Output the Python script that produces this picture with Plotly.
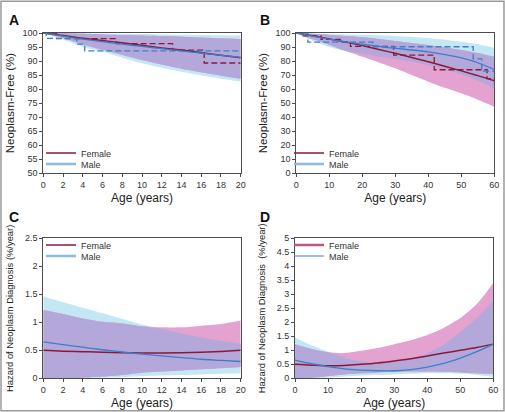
import plotly.graph_objects as go
import numpy as np

# ---------------- DATA ----------------
# Panel A: Neoplasm-free (%) by age 0-20
age_a = [0, 2, 4, 6, 8, 10, 12, 14, 16, 18, 20]
female_fit_a = [100, 99.1, 98.1, 97.3, 96.5, 95.6, 94.7, 93.9, 93.0, 92.1, 91.2]
male_fit_a = [100, 98.9, 97.8, 96.9, 96.0, 95.2, 94.4, 93.6, 92.8, 92.0, 91.3]
female_up_a = [100, 99.9, 99.7, 99.5, 99.3, 99.1, 98.9, 98.7, 98.4, 98.1, 97.8]
female_lo_a = [100, 98.2, 95.9, 94.0, 92.2, 90.4, 88.8, 87.3, 86.0, 84.8, 83.7]
male_up_a = [100, 100, 99.9, 99.8, 99.7, 99.6, 99.5, 99.4, 99.3, 99.2, 99.1]
male_lo_a = [100, 97.7, 95.1, 93.3, 91.2, 89.2, 87.6, 86.2, 84.9, 83.7, 82.7]
km_female_age_a = [0, 1.35, 7.4, 13.1, 16.3, 20]
km_female_a = [100, 98.0, 96.2, 93.9, 89.3, 89.3]
km_male_age_a = [0, 0.3, 3.4, 4.2, 20]
km_male_a = [100, 98.1, 96.0, 93.6, 93.6]

# Panel B: Neoplasm-free (%) by age 0-60
age_b = [0, 5, 10, 15, 20, 25, 30, 35, 40, 45, 50, 55, 60]
female_fit_b = [100, 98.0, 95.8, 93.5, 91.0, 88.3, 85.5, 82.5, 79.5, 76.3, 73.0, 69.6, 66.0]
male_fit_b = [100, 97.8, 95.6, 93.7, 92.0, 90.5, 89.0, 87.9, 86.5, 84.6, 82.2, 78.8, 74.0]
female_up_b = [100, 99.4, 98.6, 97.8, 96.9, 95.7, 94.3, 92.9, 91.4, 89.7, 87.9, 85.7, 83.0]
female_lo_b = [100, 95.5, 91.5, 87.3, 83.0, 79.0, 74.8, 70.0, 65.3, 61.0, 57.0, 52.5, 47.5]
male_up_b = [100, 99.6, 99.3, 99.0, 98.8, 98.4, 97.9, 97.1, 96.2, 95.2, 93.8, 92.0, 89.5]
male_lo_b = [100, 94.5, 90.0, 87.0, 85.0, 83.2, 81.5, 79.5, 77.0, 74.0, 70.5, 66.0, 60.5]
km_female_age_b = [0, 1.5, 7.5, 13.3, 16.4, 29.5, 41.8, 57.8, 60]
km_female_b = [100, 98.0, 95.5, 93.8, 90.5, 84.3, 73.8, 67.5, 67.5]
km_male_age_b = [0, 3.5, 23.2, 53.6, 56.2, 60]
km_male_b = [100, 93.5, 90.2, 81.5, 72.8, 72.8]

# Panel C: Hazard (%/year) by age 0-20
age_c = [0, 2, 4, 6, 8, 10, 12, 14, 16, 18, 20]
female_fit_c = [0.50, 0.485, 0.475, 0.465, 0.458, 0.453, 0.452, 0.456, 0.465, 0.48, 0.50]
male_fit_c = [0.65, 0.60, 0.555, 0.51, 0.47, 0.43, 0.40, 0.37, 0.34, 0.32, 0.30]
female_up_c = [1.22, 1.15, 1.07, 1.01, 0.98, 0.93, 0.91, 0.91, 0.94, 0.97, 1.03]
female_lo_c = [0.0, 0.0, 0.01, 0.03, 0.06, 0.10, 0.12, 0.14, 0.16, 0.18, 0.20]
male_up_c = [1.46, 1.36, 1.26, 1.16, 1.06, 0.96, 0.88, 0.80, 0.73, 0.67, 0.62]
male_lo_c = [0.0, 0.0, 0.0, 0.01, 0.02, 0.04, 0.05, 0.06, 0.07, 0.08, 0.09]

# Panel D: Hazard (%/year) by age 0-60
age_d = [0, 5, 10, 15, 20, 25, 30, 35, 40, 45, 50, 55, 60]
female_fit_d = [0.50, 0.47, 0.45, 0.46, 0.50, 0.55, 0.62, 0.70, 0.80, 0.90, 1.00, 1.10, 1.22]
male_fit_d = [0.65, 0.52, 0.42, 0.34, 0.29, 0.27, 0.27, 0.31, 0.40, 0.53, 0.72, 0.95, 1.22]
female_up_d = [1.22, 1.05, 0.93, 0.90, 0.98, 1.08, 1.22, 1.36, 1.55, 1.80, 2.15, 2.65, 3.40]
female_lo_d = [0.0, 0.02, 0.08, 0.14, 0.18, 0.21, 0.23, 0.24, 0.24, 0.23, 0.21, 0.18, 0.15]
male_up_d = [1.46, 1.18, 0.95, 0.75, 0.60, 0.55, 0.58, 0.70, 0.90, 1.20, 1.65, 2.15, 2.78]
male_lo_d = [0.0, 0.0, 0.02, 0.06, 0.10, 0.12, 0.14, 0.16, 0.18, 0.18, 0.17, 0.12, 0.05]

yticks_a = [50, 55, 60, 65, 70, 75, 80, 85, 90, 95, 100]
yticktext_a = ["50", "55", "60", "65", "70", "75", "80", "85", "90", "95", "100"]
yticks_b = list(range(0, 101, 10))
yticks_c = [0, 0.5, 1, 1.5, 2, 2.5]
yticktext_c = ["0", "0.5", "1", "1.5", "2", "2.5"]
yticks_d = [0, 0.5, 1, 1.5, 2, 2.5, 3, 3.5, 4, 4.5, 5]
yticktext_d = ["0", "0.5", "1", "1.5", "2", "2.5", "3", "3.5", "4", "4.5", "5"]

# ---------------- STYLE ----------------
FEMALE = "#8c1838"
MALE = "#3a7fc8"
BLUE_BAND = "#c3e7f3"
PINK_BAND = "#e3a2cf"
OVERLAP = "#b4a8da"
FONT = "Liberation Sans, Arial, sans-serif"
W, H = 505, 412

fig = go.Figure()


def add_bands(x, f_lo, f_up, m_lo, m_up, xa, ya):
    f_lo = np.array(f_lo); f_up = np.array(f_up)
    m_lo = np.array(m_lo); m_up = np.array(m_up)
    o_lo = np.maximum(f_lo, m_lo)
    o_up = np.minimum(f_up, m_up)
    for lo, up, col in [(m_lo, m_up, BLUE_BAND), (f_lo, f_up, PINK_BAND), (o_lo, o_up, OVERLAP)]:
        fig.add_trace(go.Scatter(x=x, y=lo, mode="lines", line=dict(width=0, shape="spline", smoothing=0.8),
                                 showlegend=False, hoverinfo="skip", xaxis=xa, yaxis=ya))
        fig.add_trace(go.Scatter(x=x, y=up, mode="lines", line=dict(width=0, shape="spline", smoothing=0.8),
                                 fill="tonexty", fillcolor=col, showlegend=False, hoverinfo="skip",
                                 xaxis=xa, yaxis=ya))


def add_lines(x, f, m, xa, ya):
    fig.add_trace(go.Scatter(x=x, y=f, mode="lines", line=dict(color=FEMALE, width=1.5, shape="spline"),
                             showlegend=False, xaxis=xa, yaxis=ya))
    fig.add_trace(go.Scatter(x=x, y=m, mode="lines", line=dict(color=MALE, width=1.3, shape="spline"),
                             showlegend=False, xaxis=xa, yaxis=ya))


def add_km(xf, yf, xm, ym, xa, ya):
    fig.add_trace(go.Scatter(x=xf, y=yf, mode="lines", line=dict(color=FEMALE, width=1.3, dash="6px,3px", shape="hv"),
                             showlegend=False, xaxis=xa, yaxis=ya))
    fig.add_trace(go.Scatter(x=xm, y=ym, mode="lines", line=dict(color=MALE, width=1.3, dash="6px,3px", shape="hv"),
                             showlegend=False, xaxis=xa, yaxis=ya))


# Panel A
add_bands(age_a, female_lo_a, female_up_a, male_lo_a, male_up_a, "x", "y")
add_km(km_female_age_a, km_female_a, km_male_age_a, km_male_a, "x", "y")
add_lines(age_a, female_fit_a, male_fit_a, "x", "y")
# Panel B
add_bands(age_b, female_lo_b, female_up_b, male_lo_b, male_up_b, "x2", "y2")
add_km(km_female_age_b, km_female_b, km_male_age_b, km_male_b, "x2", "y2")
add_lines(age_b, female_fit_b, male_fit_b, "x2", "y2")
# Panel C
add_bands(age_c, female_lo_c, female_up_c, male_lo_c, male_up_c, "x3", "y3")
add_lines(age_c, female_fit_c, male_fit_c, "x3", "y3")
# Panel D
add_bands(age_d, female_lo_d, female_up_d, male_lo_d, male_up_d, "x4", "y4")
add_lines(age_d, female_fit_d, male_fit_d, "x4", "y4")

# Legends: one legend box per entry so the spacing matches the reference
legend_common = dict(bgcolor="rgba(0,0,0,0)", font=dict(family=FONT, size=9, color="#333333"),
                     itemwidth=30, xanchor="left", yanchor="middle", traceorder="normal")
fl = dict(color=FEMALE, width=1.5)
ml = dict(color="#8dbbe0", width=2.5)
legend_specs = [
    # (name, line style, axis x, axis y, legend x px, legend y px)
    ("Female", fl, "x", "y", 41, 153),
    ("Male", ml, "x", "y", 41, 164),
    ("Female", fl, "x2", "y2", 289, 153),
    ("Male", ml, "x2", "y2", 289, 164),
    ("Female", fl, "x3", "y3", 41, 245),
    ("Male", ml, "x3", "y3", 41, 256),
    ("Female", dict(color="#c0587e", width=2.5), "x4", "y4", 289, 245),
    ("Male", dict(color=MALE, width=1.2), "x4", "y4", 289, 256),
]
legend_layout = {}
for i, (name, style, xa, ya, lx, ly) in enumerate(legend_specs):
    key = "legend" if i == 0 else f"legend{i + 1}"
    fig.add_trace(go.Scatter(x=[None], y=[None], mode="lines", name=name, line=style,
                             legend=key, xaxis=xa, yaxis=ya))
    legend_layout[key] = dict(x=lx / W, y=1 - ly / H, **legend_common)


def xdom(l, r):
    return [l / W, r / W]


def ydom(t, b):
    return [1 - b / H, 1 - t / H]


axis_common = dict(showline=True, linecolor="#4d4d4d", linewidth=1, mirror=True, ticks="outside",
                   ticklen=3, tickwidth=1, tickcolor="#4d4d4d", showgrid=False, zeroline=False,
                   tickfont=dict(family=FONT, size=9, color="#333333"), automargin=False)
xtitle = dict(text="Age (years)", font=dict(family=FONT, size=12, color="#222222"), standoff=4)
ytfont = dict(family=FONT, size=11.5, color="#222222")
ytfont_h = dict(family=FONT, size=9.4, color="#222222")

fig.update_layout(
    width=W, height=H, margin=dict(l=0, r=0, t=0, b=0),
    paper_bgcolor="white", plot_bgcolor="white",
    xaxis=dict(domain=xdom(43.3, 240.7), range=[0, 20], tickvals=list(range(0, 21, 2)), title=xtitle, anchor="y", **axis_common),
    yaxis=dict(domain=ydom(33, 173.3), range=[50, 100], tickvals=yticks_a, ticktext=yticktext_a, anchor="x",
               title=dict(text="Neoplasm-Free (%)", font=ytfont, standoff=5), **axis_common),
    xaxis2=dict(domain=xdom(296.3, 494.3), range=[0, 60], tickvals=list(range(0, 61, 10)), title=xtitle, anchor="y2", **axis_common),
    yaxis2=dict(domain=ydom(33, 173.3), range=[0, 100], tickvals=yticks_b, anchor="x2",
                title=dict(text="Neoplasm-Free (%)", font=ytfont, standoff=5), **axis_common),
    xaxis3=dict(domain=xdom(43.3, 240.7), range=[0, 20], tickvals=list(range(0, 21, 2)), title=xtitle, anchor="y3", **axis_common),
    yaxis3=dict(domain=ydom(238.3, 378.3), range=[0, 2.5], tickvals=yticks_c, ticktext=yticktext_c, anchor="x3",
                title=dict(text="Hazard of Neoplasm Diagnosis (%/year)", font=ytfont_h, standoff=9), **axis_common),
    xaxis4=dict(domain=xdom(295, 493.3), range=[0, 60], tickvals=list(range(0, 61, 10)), title=xtitle, anchor="y4", **axis_common),
    yaxis4=dict(domain=ydom(238.3, 378.3), range=[0, 5], tickvals=yticks_d, ticktext=yticktext_d, anchor="x4",
                title=dict(text="Hazard of Neoplasm Diagnosis  (%/year)", font=ytfont_h, standoff=9), **axis_common),
    showlegend=True,
    **legend_layout,
)

for letter, xp, yp in [("A", 7, 20), ("B", 258, 20), ("C", 7, 217), ("D", 258, 217)]:
    fig.add_annotation(text=f"<b>{letter}</b>", x=xp / W, y=1 - yp / H, xref="paper", yref="paper",
                       xanchor="left", yanchor="middle", showarrow=False,
                       font=dict(family=FONT, size=14, color="#111111"))

fig.add_shape(type="rect", xref="paper", yref="paper", x0=0.002, x1=0.998, y0=0.003, y1=0.997,
              line=dict(color="#9a9a9a", width=1.5), fillcolor="rgba(0,0,0,0)")

fig.write_html("out.html", config={"displayModeBar": False},
               post_script="document.body.style.margin='0';document.body.style.overflow='hidden';")
